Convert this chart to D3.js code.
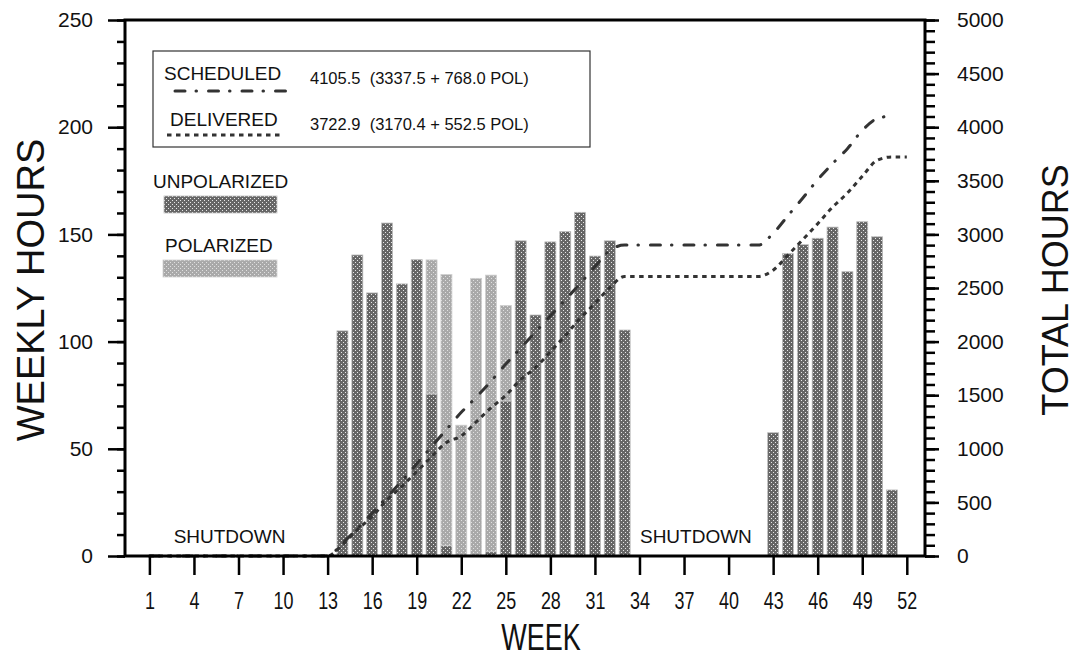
<!DOCTYPE html>
<html>
<head>
<meta charset="utf-8">
<script src="https://cdn.jsdelivr.net/npm/d3@7"></script>
<style>
  body { margin: 0; background: #fff; }
  text { font-family: Arial, "Liberation Sans", sans-serif; fill: #111; }
</style>
</head>
<body>
<div id="chart"></div>
<script>
let barWeeks = [14, 15, 16, 17, 18, 19, 20, 21, 22, 23, 24, 25, 26, 27, 28, 29, 30, 31, 32, 33,
                43, 44, 45, 46, 47, 48, 49, 50, 51];
let unpolarized = [105, 140.4, 122.7, 155.3, 126.9, 138.2, 75.6, 4.8, 0, 0, 2, 72.3, 147, 112.4, 146.5, 151.3, 160.3, 139.9, 147, 105.4,
                   57.5, 141, 145.2, 148.2, 153.4, 132.6, 155.9, 148.9, 30.8];
let polarized = [0, 0, 0, 0, 0, 0, 62.5, 126.5, 61, 129.5, 129, 44.5, 0, 0, 0, 0, 0, 0, 0, 0,
                 0, 0, 0, 0, 0, 0, 0, 0, 0];

// cumulative hours per week (right axis)
let lineWeeks = d3.range(1, 53);
let scheduledTotal = [0, 0, 0, 0, 0, 0, 0, 0, 0, 0, 0, 0, 0,
  120, 255, 400, 550, 700, 860, 1020, 1180, 1340, 1480, 1630, 1790, 1940, 2090, 2240, 2390, 2540, 2700, 2850, 2900,
  2900, 2900, 2900, 2900, 2900, 2900, 2900, 2900, 2900,
  3010, 3175, 3340, 3510, 3660, 3800, 3970, 4080, 4105.5, null];
let deliveredTotal = [0, 0, 0, 0, 0, 0, 0, 0, 0, 0, 0, 0, 0,
  105, 245, 368, 523, 650, 788, 927, 1059, 1120, 1250, 1382, 1499, 1646, 1758, 1905, 2056, 2216, 2356, 2503, 2608,
  2608, 2608, 2608, 2608, 2608, 2608, 2608, 2608, 2608,
  2666, 2807, 2952, 3100, 3254, 3386, 3542, 3691, 3723, 3723];

let weekTicks = [1, 4, 7, 10, 13, 16, 19, 22, 25, 28, 31, 34, 37, 40, 43, 46, 49, 52];

let svgWidth = 1075;
let svgHeight = 661;
let margin = { top: 20, right: 150, bottom: 105, left: 125 };
let chartWidth = svgWidth - margin.left - margin.right;
let chartHeight = svgHeight - margin.top - margin.bottom;

let svg = d3.select("#chart").append("svg")
  .attr("width", svgWidth)
  .attr("height", svgHeight);

// stipple patterns for the bars
let defs = svg.append("defs");
function stipple(id, base, dot) {
  let p = defs.append("pattern").attr("id", id)
    .attr("patternUnits", "userSpaceOnUse").attr("width", 4).attr("height", 4);
  p.append("rect").attr("width", 4).attr("height", 4).attr("fill", base);
  p.append("rect").attr("x", 0).attr("y", 0).attr("width", 1).attr("height", 1).attr("fill", dot);
  p.append("rect").attr("x", 2).attr("y", 2).attr("width", 1).attr("height", 1).attr("fill", dot);
}
stipple("unpol", "#666", "#e8e8e8");
stipple("pol", "#a9a9a9", "#e0e0e0");

let g = svg.append("g").attr("transform", `translate(${margin.left}, ${margin.top})`);

let x = d3.scaleLinear().domain([1, 52]).range([24.4, 781.8]);
let y = d3.scaleLinear().domain([0, 250]).range([chartHeight, 0]);
let y2 = d3.scaleLinear().domain([0, 5000]).range([chartHeight, 0]);

let barW = 11;
let bars = barWeeks.map((w, i) => ({ week: w, u: unpolarized[i], p: polarized[i] }));

g.selectAll(".bar-u").data(bars.filter(d => d.u > 0)).enter().append("rect")
  .attr("class", "bar-u")
  .attr("x", d => x(d.week) - barW / 2)
  .attr("y", d => y(d.u))
  .attr("width", barW)
  .attr("height", d => chartHeight - y(d.u))
  .attr("fill", "url(#unpol)")
  .attr("stroke", "#bdbdbd").attr("stroke-width", 0.8);

g.selectAll(".bar-p").data(bars.filter(d => d.p > 0)).enter().append("rect")
  .attr("class", "bar-p")
  .attr("x", d => x(d.week) - barW / 2)
  .attr("y", d => y(d.u + d.p))
  .attr("width", barW)
  .attr("height", d => y(d.u) - y(d.u + d.p))
  .attr("fill", "url(#pol)")
  .attr("stroke", "#cfcfcf").attr("stroke-width", 0.8);

// cumulative lines
let line = d3.line()
  .defined(d => d[1] != null)
  .x(d => x(d[0]))
  .y(d => y2(d[1]))
  .curve(d3.curveMonotoneX);

g.append("path")
  .datum(lineWeeks.map((w, i) => [w, scheduledTotal[i]]))
  .attr("d", line)
  .attr("fill", "none").attr("stroke", "#333").attr("stroke-width", 3)
  .attr("stroke-linecap", "round")
  .attr("stroke-dasharray", "10,11,0.5,12");

g.append("path")
  .datum(lineWeeks.map((w, i) => [w, deliveredTotal[i]]))
  .attr("d", line)
  .attr("fill", "none").attr("stroke", "#333").attr("stroke-width", 3)
  .attr("stroke-dasharray", "4.5,4.5");

// axes
let axW = 2.5;
function styleAxis(sel) {
  sel.select(".domain").remove();
  sel.selectAll(".tick line").attr("stroke", "#000").attr("stroke-width", axW);
  sel.selectAll(".tick text").style("font-size", "21px").attr("fill", "#111");
}

g.append("g").call(d3.axisLeft(y).tickValues(d3.range(0, 251, 10)).tickSize(8).tickFormat(""))
  .call(styleAxis);
g.append("g").call(d3.axisLeft(y).tickValues([0, 50, 100, 150, 200, 250]).tickSize(17).tickPadding(15))
  .call(styleAxis);

g.append("g").attr("transform", `translate(${chartWidth}, 0)`)
  .call(d3.axisRight(y2).tickValues(d3.range(0, 5001, 100)).tickSize(10).tickFormat(""))
  .call(styleAxis);
g.append("g").attr("transform", `translate(${chartWidth}, 0)`)
  .call(d3.axisRight(y2).tickValues(d3.range(0, 5001, 500)).tickSize(14).tickPadding(18).tickFormat(d3.format("d")))
  .call(styleAxis);

// week axis: narrow, tall digits as in the original
let xAxisG = g.append("g").attr("transform", `translate(0, ${chartHeight})`)
  .call(d3.axisBottom(x).tickValues(weekTicks).tickSize(19).tickPadding(18))
  .call(styleAxis);
xAxisG.selectAll(".tick text")
  .style("font-size", "23px")
  .attr("transform", "scale(0.78, 1)");

// frame
g.append("rect")
  .attr("width", chartWidth).attr("height", chartHeight)
  .attr("fill", "none").attr("stroke", "#000").attr("stroke-width", 3);

// axis titles
svg.append("text")
  .attr("transform", `translate(44, 290) rotate(-90)`)
  .attr("text-anchor", "middle")
  .style("font-size", "38px")
  .text("WEEKLY HOURS");

svg.append("text")
  .attr("transform", `translate(1068, 290) rotate(-90)`)
  .attr("text-anchor", "middle")
  .style("font-size", "36px")
  .text("TOTAL HOURS");

svg.append("text")
  .attr("transform", "translate(541, 650) scale(0.75, 1)")
  .attr("text-anchor", "middle")
  .style("font-size", "36px")
  .text("WEEK");

// shutdown notes
g.append("text").attr("x", x(6.4)).attr("y", chartHeight - 13)
  .attr("text-anchor", "middle").style("font-size", "19px").text("SHUTDOWN");
g.append("text").attr("x", x(37.8)).attr("y", chartHeight - 13)
  .attr("text-anchor", "middle").style("font-size", "19px").text("SHUTDOWN");

// legend box
svg.append("rect")
  .attr("x", 153).attr("y", 51).attr("width", 437).attr("height", 96)
  .attr("fill", "#fff").attr("stroke", "#333").attr("stroke-width", 1.2);

svg.append("text").attr("x", 164).attr("y", 80).style("font-size", "19px").text("SCHEDULED");
svg.append("text").attr("x", 310).attr("y", 84).style("font-size", "16.5px")
  .attr("xml:space", "preserve").text("4105.5  (3337.5 + 768.0 POL)");
svg.append("line").attr("x1", 175).attr("x2", 287).attr("y1", 91).attr("y2", 91)
  .attr("stroke", "#333").attr("stroke-width", 3).attr("stroke-linecap", "round")
  .attr("stroke-dasharray", "10,11,0.5,12");

svg.append("text").attr("x", 170).attr("y", 126).style("font-size", "19px").text("DELIVERED");
svg.append("text").attr("x", 310).attr("y", 130).style("font-size", "16.5px")
  .attr("xml:space", "preserve").text("3722.9  (3170.4 + 552.5 POL)");
svg.append("line").attr("x1", 167).attr("x2", 281).attr("y1", 135).attr("y2", 135)
  .attr("stroke", "#333").attr("stroke-width", 3)
  .attr("stroke-dasharray", "4.5,4.5");

// bar legend
svg.append("text").attr("x", 153).attr("y", 188).style("font-size", "19px").text("UNPOLARIZED");
svg.append("rect").attr("x", 164).attr("y", 196).attr("width", 113).attr("height", 17)
  .attr("fill", "url(#unpol)").attr("stroke", "#bdbdbd").attr("stroke-width", 0.8);
svg.append("text").attr("x", 165).attr("y", 252).style("font-size", "19px").text("POLARIZED");
svg.append("rect").attr("x", 163).attr("y", 260).attr("width", 114).attr("height", 17)
  .attr("fill", "url(#pol)").attr("stroke", "#cfcfcf").attr("stroke-width", 0.8);
</script>
</body>
</html>
